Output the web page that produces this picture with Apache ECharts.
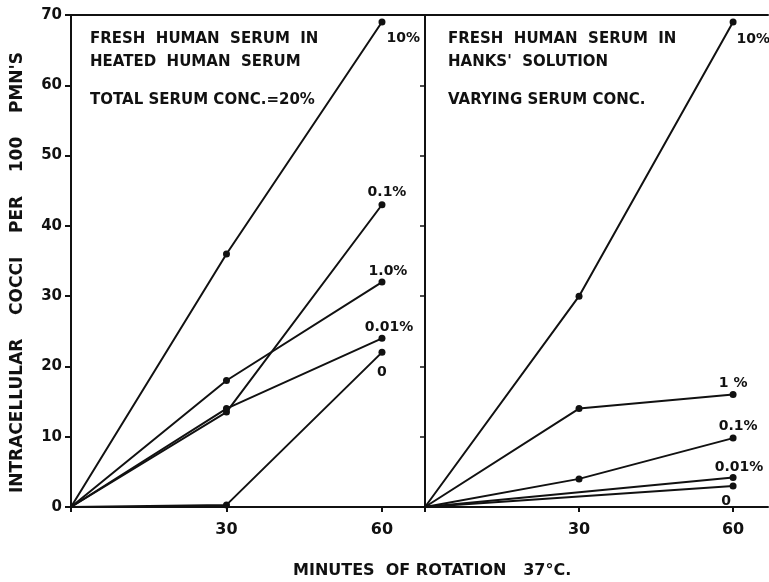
<!DOCTYPE html>
<html>
<head>
<meta charset="utf-8">
<script src="https://cdn.jsdelivr.net/npm/echarts@6/dist/echarts.min.js"></script>
<style>
html,body{margin:0;padding:0;background:#fff;}
#chart{width:769px;height:582px;}
</style>
</head>
<body>
<div id="chart"></div>
<script>
// ---- Data ----
const times = [0, 30, 60];
const xTickLabels = [30, 60];
const yTicks = [0, 10, 20, 30, 40, 50, 60, 70];

// Left panel: fresh human serum in heated human serum (total 20%)
const leftNames = ['10%', '0.1%', '1.0%', '0.01%', '0'];
const left10 = [0, 36, 69];
const left01 = [0, 13.5, 43];
const left1 = [0, 18, 32];
const left001 = [0, 14, 24];
const left0 = [0, 0.3, 22];

// Right panel: fresh human serum in Hanks' solution (varying conc.)
const rightNames = ['10%', '1 %', '0.1%', '0.01%', '0'];
const right10 = [0, 30, 69];
const right1 = [0, 14, 16];
const right01 = [0, 4, 9.8];
const right001 = [0, null, 4.2];
const right0 = [0, null, 3];

const panelText = {
  left: ['FRESH  HUMAN  SERUM  IN', 'HEATED  HUMAN  SERUM', 'TOTAL SERUM CONC.=20%'],
  right: ['FRESH  HUMAN  SERUM  IN', "HANKS'  SOLUTION", 'VARYING SERUM CONC.']
};
const yTitle = "INTRACELLULAR    COCCI    PER    100    PMN'S";
const xTitle = 'MINUTES  OF ROTATION   37°C.';

// ---- Styling ----
const FONT = '"DejaVu Sans", "Liberation Sans", sans-serif';
const INK = '#111';

const leftLabelCfg = [
  {position: 'right', offset: [-4, 16]},
  {position: 'top', offset: [5, 3]},
  {position: 'top', offset: [6, 5]},
  {position: 'top', offset: [7, 5]},
  {position: 'bottom', offset: [0, 4]}
];
const rightLabelCfg = [
  {position: 'right', offset: [-5, 17]},
  {position: 'top', offset: [0, 4]},
  {position: 'top', offset: [5, 4]},
  {position: 'top', offset: [6, 5]},
  {position: 'bottom', offset: [-7, 0]}
];

function buildSeries(values, name, gridIdx, cfg) {
  const data = values.map((v, i) => {
    const item = {value: [times[i], v]};
    if (i === 0) item.symbol = 'none';
    if (i === values.length - 1) {
      item.label = {
        show: true,
        formatter: name,
        position: cfg.position,
        offset: cfg.offset,
        fontFamily: FONT,
        fontWeight: 'bold',
        fontSize: 14,
        color: INK
      };
    }
    return item;
  });
  return {
    type: 'line',
    name: name,
    xAxisIndex: gridIdx === 0 ? 0 : 2,
    yAxisIndex: gridIdx === 0 ? 0 : 2,
    data: data,
    connectNulls: true,
    symbol: 'circle',
    symbolSize: 7,
    lineStyle: {color: INK, width: 2},
    itemStyle: {color: INK},
    label: {show: false},
    emphasis: {disabled: true},
    animation: false,
    z: 3
  };
}

const leftVals = [left10, left01, left1, left001, left0];
const rightVals = [right10, right1, right01, right001, right0];
const series = [];
leftVals.forEach((v, i) => series.push(buildSeries(v, leftNames[i], 0, leftLabelCfg[i])));
rightVals.forEach((v, i) => series.push(buildSeries(v, rightNames[i], 1, rightLabelCfg[i])));

const axisLine = {show: true, onZero: false, lineStyle: {color: INK, width: 2}};
const tickLabel = {fontFamily: FONT, fontWeight: 'bold', color: INK};
const xFmt = v => (xTickLabels.indexOf(v) >= 0 ? String(v) : '');

const chart = echarts.init(document.getElementById('chart'), null, {renderer: 'canvas'});

function textBlock(x, y, lines, gapY) {
  return lines.map((t, i) => ({
    type: 'text',
    left: x,
    top: y + gapY[i],
    style: {text: t, font: 'bold 15px ' + FONT, fill: INK}
  }));
}

chart.setOption({
  animation: false,
  backgroundColor: '#fff',
  grid: [
    {left: 71, top: 15, width: 354, height: 492, show: false, outerBoundsMode: 'none', containLabel: false},
    {left: 425, top: 15, width: 343, height: 492, show: false, outerBoundsMode: 'none', containLabel: false}
  ],
  xAxis: [
    {gridIndex: 0, type: 'value', min: 0, max: 68.3, interval: 30, position: 'bottom',
     axisLine: axisLine, axisTick: {show: true, length: 5, lineStyle: {color: INK, width: 2}},
     axisLabel: Object.assign({margin: 15, fontSize: 16, formatter: xFmt, showMaxLabel: false}, tickLabel),
     splitLine: {show: false}},
    {gridIndex: 0, type: 'value', min: 0, max: 68.3, position: 'top',
     axisLine: axisLine, axisTick: {show: false}, axisLabel: {show: false}, splitLine: {show: false}},
    {gridIndex: 1, type: 'value', min: 0, max: 66.8, interval: 30, position: 'bottom',
     axisLine: axisLine, axisTick: {show: true, length: 5, lineStyle: {color: INK, width: 2}},
     axisLabel: Object.assign({margin: 15, fontSize: 16, formatter: xFmt, showMaxLabel: false}, tickLabel),
     splitLine: {show: false}},
    {gridIndex: 1, type: 'value', min: 0, max: 66.8, position: 'top',
     axisLine: axisLine, axisTick: {show: false}, axisLabel: {show: false}, splitLine: {show: false}}
  ],
  yAxis: [
    {gridIndex: 0, type: 'value', min: yTicks[0], max: yTicks[yTicks.length - 1], interval: 10, position: 'left',
     axisLine: axisLine, axisTick: {show: true, length: 6, lineStyle: {color: INK, width: 2}},
     axisLabel: Object.assign({margin: 9, fontSize: 15}, tickLabel), splitLine: {show: false}},
    {gridIndex: 0, type: 'value', min: 0, max: 70, interval: 10, position: 'right',
     axisLine: axisLine, axisTick: {show: true, inside: true, length: 5, lineStyle: {color: INK, width: 1.5}},
     axisLabel: {show: false}, splitLine: {show: false}},
    {gridIndex: 1, type: 'value', min: 0, max: 70, interval: 10, position: 'left',
     axisLine: axisLine, axisTick: {show: false}, axisLabel: {show: false}, splitLine: {show: false}}
  ],
  series: series,
  graphic: [
    ...textBlock(90, 32, panelText.left, [0, 23, 61]),
    ...textBlock(448, 32, panelText.right, [0, 23, 61]),
    {type: 'text', left: 9, top: 52, rotation: Math.PI / 2,
     style: {text: yTitle, font: 'bold 17px ' + FONT, fill: INK}},
    {type: 'text', left: 293, top: 563,
     style: {text: xTitle, font: 'bold 16px ' + FONT, fill: INK}}
  ]
});
</script>
</body>
</html>
